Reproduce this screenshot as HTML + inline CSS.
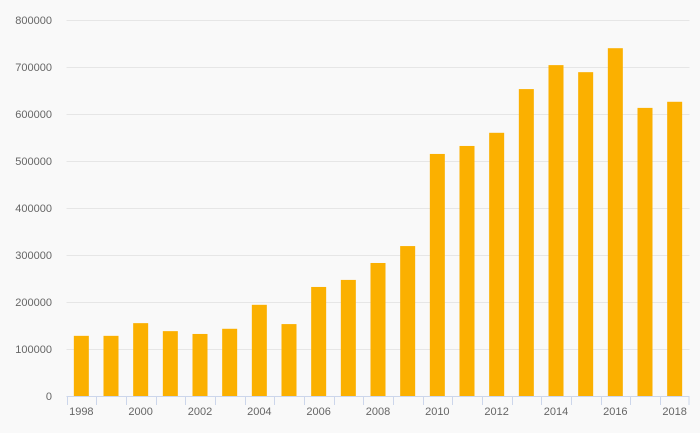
<!DOCTYPE html>
<html><head><meta charset="utf-8"><style>
body{margin:0;background:#f9f9f9;font-family:"Liberation Sans",sans-serif}
</style></head><body>
<svg id="chart" width="700" height="433" xmlns="http://www.w3.org/2000/svg" style="display:block;background:#f9f9f9">
<g id="grid"></g><g id="bars"></g><g id="axis"></g>
</svg>
<script>
const categories=["1998","1999","2000","2001","2002","2003","2004","2005","2006","2007","2008","2009","2010","2011","2012","2013","2014","2015","2016","2017","2018"];
const values=[128000,128000,155000,138000,132000,143000,194000,153000,232000,247000,283000,319000,515000,532000,560000,653000,704000,689000,740000,613000,626000];
const yTicks=[0,100000,200000,300000,400000,500000,600000,700000,800000];
const NS="http://www.w3.org/2000/svg";
const x0=66.5,x1=689.5,yBase=396,yTop=20,yMax=800000;
const band=(x1-x0)/categories.length;
const yS=v=>yBase-(v/yMax)*(yBase-yTop);
const xS=i=>x0+band*i;
function mk(t,a,p){const e=document.createElementNS(NS,t);for(const k in a)e.setAttribute(k,a[k]);p.appendChild(e);return e;}
const grid=document.getElementById('grid'),bars=document.getElementById('bars'),axis=document.getElementById('axis');
yTicks.forEach(v=>{
  if(v>0){const l=mk('line',{x1:x0,x2:x1,y1:yS(v)+0.5,y2:yS(v)+0.5,stroke:'#e6e6e6'},grid);
  
  }
  const t=mk('text',{x:52,y:yS(v)+4,'text-anchor':'end','font-size':11,fill:'#666'},axis);
  t.textContent=v;
  
  
});
categories.forEach((c,i)=>{
  const w=15,cx=xS(i)+band/2;
  const r=mk('rect',{x:cx-w/2,y:yS(values[i]),width:w,height:yBase-yS(values[i]),fill:'#fbb000'},bars);
  
  
  const tk=mk('line',{x1:Math.round(xS(i))+0.5,x2:Math.round(xS(i))+0.5,y1:yBase,y2:yBase+9,stroke:'#ccd6eb'},axis);
  
  
  if(i%2===0){const t=mk('text',{x:cx,y:415,'text-anchor':'middle','font-size':11,fill:'#666'},axis);
  t.textContent=c;
  
  }
});
const lt=mk('line',{x1:x1-0.5,x2:x1-0.5,y1:yBase,y2:yBase+9,stroke:'#ccd6eb'},axis);


const ax=mk('line',{x1:x0,x2:x1,y1:yBase+0.5,y2:yBase+0.5,stroke:'#ccd6eb'},axis);


</script>
</body></html>
